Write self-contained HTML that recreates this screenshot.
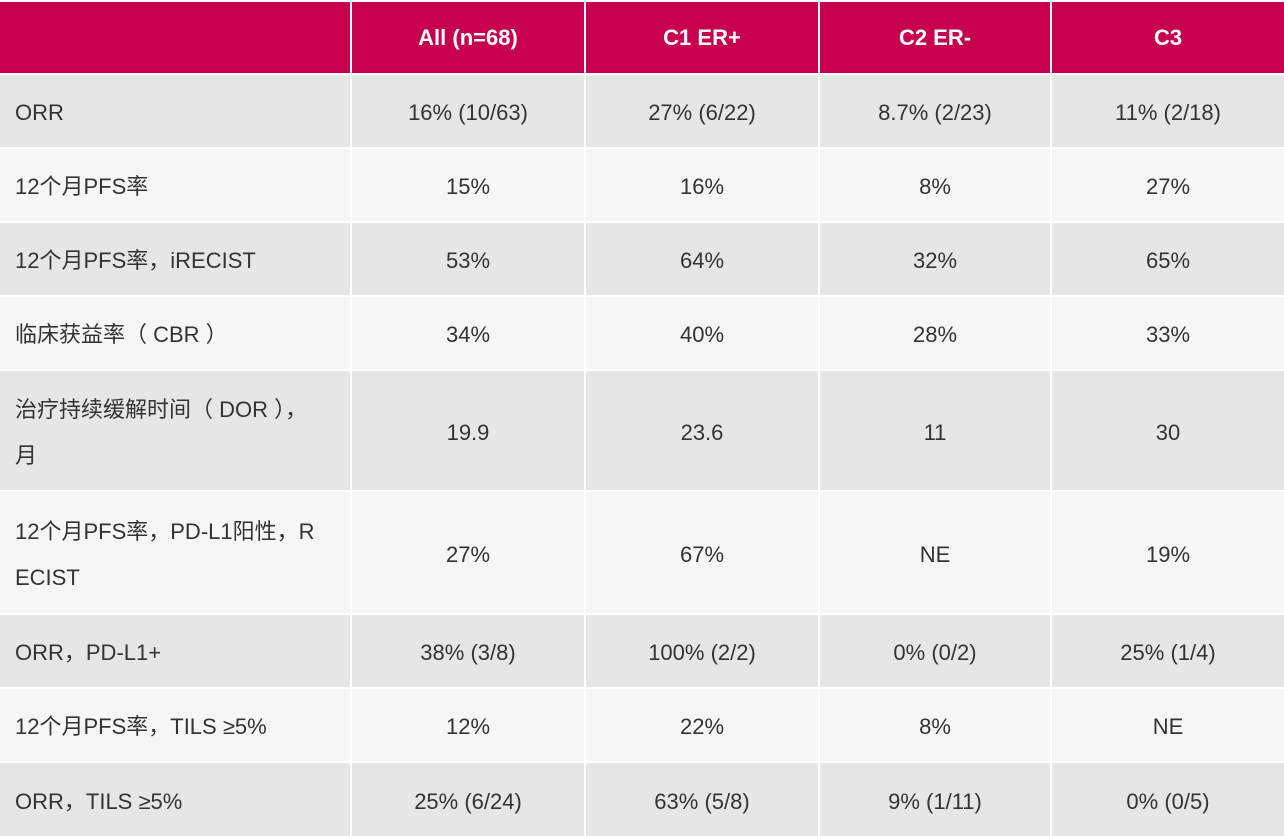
<!DOCTYPE html>
<html><head><meta charset="utf-8"><style>
html,body{margin:0;padding:0;background:#fff;}
.g{display:grid;width:1284px;height:834px;margin-top:2px;grid-template-columns:350px 232px 232px 230px 232px;grid-template-rows:71px 72px 72px 72px 72px 119px 121px 72px 72px 73px;gap:2px;font-family:"Liberation Sans","Noto Sans CJK SC",sans-serif;font-size:22px;color:#333;}
.g div{display:flex;align-items:center;justify-content:center;text-align:center;line-height:46px;padding-top:4px;box-sizing:border-box;}
.g div.l{justify-content:flex-start;text-align:left;padding-left:15px;padding-right:10px;white-space:nowrap;}
.h{background:#c6004f;color:#fff;font-weight:bold;}
.g div.h{padding-top:0;}
.a{background:#e6e6e6;}
.b{background:#f6f6f6;}
</style></head><body>
<div class="g">
<div class="h"></div><div class="h">All (n=68)</div><div class="h">C1 ER+</div><div class="h">C2 ER-</div><div class="h">C3</div>
<div class="a l">ORR</div><div class="a">16% (10/63)</div><div class="a">27% (6/22)</div><div class="a">8.7% (2/23)</div><div class="a">11% (2/18)</div>
<div class="b l">12个月PFS率</div><div class="b">15%</div><div class="b">16%</div><div class="b">8%</div><div class="b">27%</div>
<div class="a l">12个月PFS率，iRECIST</div><div class="a">53%</div><div class="a">64%</div><div class="a">32%</div><div class="a">65%</div>
<div class="b l">临床获益率（ CBR ）</div><div class="b">34%</div><div class="b">40%</div><div class="b">28%</div><div class="b">33%</div>
<div class="a l">治疗持续缓解时间（ DOR ），<br>月</div><div class="a">19.9</div><div class="a">23.6</div><div class="a">11</div><div class="a">30</div>
<div class="b l">12个月PFS率，PD-L1阳性，R<br>ECIST</div><div class="b">27%</div><div class="b">67%</div><div class="b">NE</div><div class="b">19%</div>
<div class="a l">ORR，PD-L1+</div><div class="a">38% (3/8)</div><div class="a">100% (2/2)</div><div class="a">0% (0/2)</div><div class="a">25% (1/4)</div>
<div class="b l">12个月PFS率，TILS ≥5%</div><div class="b">12%</div><div class="b">22%</div><div class="b">8%</div><div class="b">NE</div>
<div class="a l">ORR，TILS ≥5%</div><div class="a">25% (6/24)</div><div class="a">63% (5/8)</div><div class="a">9% (1/11)</div><div class="a">0% (0/5)</div>
</div>
</body></html>
